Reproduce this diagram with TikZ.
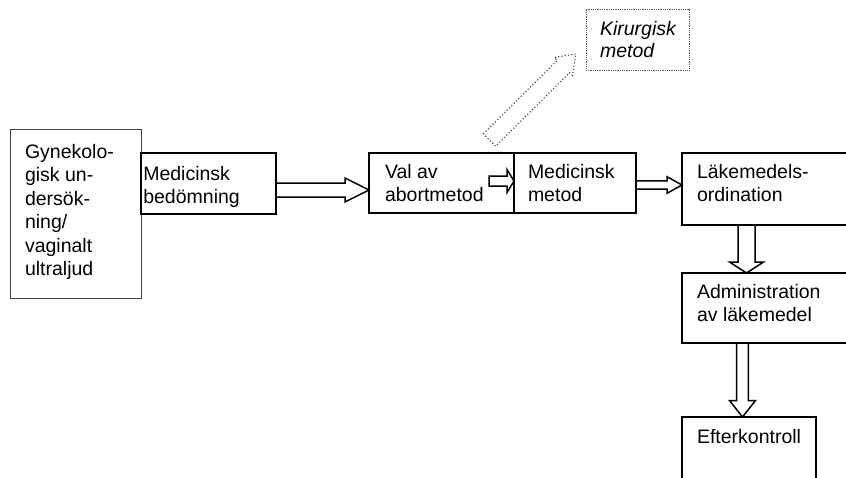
\documentclass[tikz,border=0pt]{standalone}
\usepackage{fontspec}
\setmainfont{Liberation Sans}
\usetikzlibrary{calc}
\tikzset{
  box/.style={draw=black, line width=1.5pt, rectangle, anchor=north west, inner sep=0pt, outer sep=0pt},
  thinbox/.style={draw=black!75, line width=0.9pt, rectangle, anchor=north west, inner sep=0pt, outer sep=0pt},
  dotbox/.style={draw=black!65, line width=0.8pt, densely dotted, rectangle, anchor=north west, inner sep=0pt, outer sep=0pt},
  txt/.style={anchor=north west, inner sep=0pt, outer sep=0pt, align=left, font=\fontsize{19.5}{23.5}\selectfont},
  barrow/.style={draw=black, line width=1.5pt, fill=white, line join=miter},
  dotarrow/.style={draw=black!75, line width=1.1pt, dash pattern=on 1.1pt off 2.2pt, line join=miter}
}
\newcommand{\blockarrow}[6][]{%
  \coordinate (ba-n) at ($(#3)!#6!(#2)$);
  \draw[barrow,#1] ($(#2)!#4!90:(#3)$) -- ($(ba-n)!#4!90:(#3)$) -- ($(ba-n)!#5!90:(#3)$) -- (#3) -- ($(ba-n)!#5!-90:(#3)$) -- ($(ba-n)!#4!-90:(#3)$) -- ($(#2)!#4!-90:(#3)$) -- cycle;
}
\begin{document}
\begin{tikzpicture}[x=1pt,y=-1pt]
\useasboundingbox (0,0) rectangle (846,477);
\clip (0,0) rectangle (846,477);
% boxes
\node[thinbox, minimum width=131pt, minimum height=169pt] (gyn) at (10,129) {};
\node[box, minimum width=135pt, minimum height=61pt] (med) at (141,153) {};
\node[box, minimum width=145pt, minimum height=60pt] (val) at (369,153) {};
\node[box, minimum width=122pt, minimum height=60pt] (mm) at (514,153) {};
\node[box, minimum width=200pt, minimum height=72pt] (lak) at (682,153) {};
\node[box, minimum width=200pt, minimum height=70pt] (adm) at (682,273) {};
\node[box, minimum width=134pt, minimum height=100pt] (eft) at (682,417) {};
\node[dotbox, minimum width=103pt, minimum height=61pt] (kir) at (586,9) {};
% texts
\node[txt] (gyn-t) at (25,144) {Gynekolo-\\gisk un-\\dersök-\\ning/\\vaginalt\\ultraljud};
\node[txt] (med-t) at (143.3,166) {Medicinsk\\bedömning};
\node[txt] (val-t) at (385,164) {Val av\\abortmetod};
\node[txt] (mm-t) at (528,164) {Medicinsk\\metod};
\node[txt] (lak-t) at (697,164) {Läkemedels-\\ordination};
\node[txt, font=\fontsize{19.5}{22.5}\selectfont\itshape] (kir-t) at (600,21) {Kirurgisk\\metod};
\node[txt] (adm-t) at (697,284) {Administration\\av läkemedel};
\node[txt] (eft-t) at (697,429) {Efterkontroll};
% connector end points
\coordinate (a1s) at ($(med.east)+(0,6.5)$);
\coordinate (a1e) at (a1s -| val.west);
\coordinate (a2e) at ($(mm.west)+(0,-2)$);
\coordinate (a2s) at ($(a2e)+(-25,0)$);
\coordinate (a3s) at ($(mm.east)+(0,2)$);
\coordinate (a3e) at (a3s -| lak.west);
\coordinate (a4s) at ($(lak.south west)+(64.5,0)$);
\coordinate (a4e) at (a4s |- adm.north);
\coordinate (a5s) at ($(adm.south west)+(60.5,0)$);
\coordinate (a5e) at (a5s |- eft.north);
\coordinate (a6s) at ($(val.north west)+(120.5,-13)$);
\coordinate (a6e) at ($(kir.south west)+(-10,-16)$);
% connectors
\blockarrow{a1s}{a1e}{7pt}{12pt}{24pt}
\blockarrow{a2s}{a2e}{5pt}{11.5pt}{7pt}
\blockarrow{a3s}{a3e}{4.2pt}{8.3pt}{15pt}
\blockarrow{a4s}{a4e}{8.5pt}{17pt}{11pt}
\blockarrow{a5s}{a5e}{5.8pt}{13pt}{16.5pt}
\blockarrow[dotarrow, fill=none]{a6s}{a6e}{8.7pt}{12.8pt}{17.7pt}
\end{tikzpicture}
\end{document}
